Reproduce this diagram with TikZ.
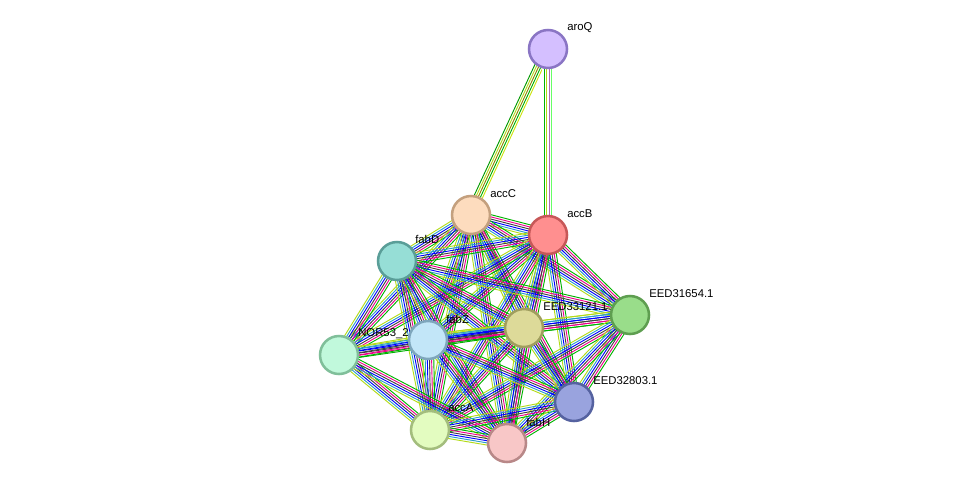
\documentclass[tikz,border=0pt]{standalone}
\usepackage{fontspec}
\setmainfont{Liberation Sans}
\usetikzlibrary{calc}
\begin{document}
\begin{tikzpicture}[x=0.75pt,y=-0.75pt,
  prot/.style={circle,minimum size=36\pgflinewidth,inner sep=0pt,line width=1.9pt,minimum size=28.5pt},
  lab/.style={anchor=west,inner sep=0pt,font=\fontsize{8.5}{10}\selectfont}]
\useasboundingbox (0,0) rectangle (975,489);
\coordinate (aroQ) at (548,49);
\coordinate (accC) at (471,215);
\coordinate (accB) at (548,235);
\coordinate (fabD) at (397,261);
\coordinate (E316) at (630,315);
\coordinate (E331) at (524,328);
\coordinate (fabZ) at (428,340);
\coordinate (NOR) at (339,355);
\coordinate (E328) at (574,402);
\coordinate (accA) at (430,430);
\coordinate (fabH) at (507,443);
\newcommand\bund[3]{%
  \foreach \c [count=\i] in {#3}{%
    \pgfmathsetmacro\o{(\i-3.5)*1.6}
    \draw[color=\c,line width=0.7pt] ($(#1)!\o pt!90:(#2)$) -- ($(#2)!\o pt!-90:(#1)$);}}
\bund{aroQ}{accC}{green!60!black,yellow!70!green,olive,green!70!black,yellow!80!green,white}
\bund{aroQ}{accB}{white,green!70!black,yellow!70!green,violet!60,green!60,white}
\foreach \a/\b in {accC/accB,accC/fabD,accC/E316,accC/E331,accC/fabZ,accC/NOR,accC/E328,accC/accA,accC/fabH,
  accB/fabD,accB/E316,accB/E331,accB/fabZ,accB/NOR,accB/E328,accB/accA,accB/fabH,
  fabD/E316,fabD/E331,fabD/fabZ,fabD/NOR,fabD/E328,fabD/accA,fabD/fabH,
  E316/E331,E316/fabZ,E316/E328,E316/accA,E316/fabH,
  E331/fabZ,E331/NOR,E331/E328,E331/accA,E331/fabH,
  fabZ/NOR,fabZ/E328,fabZ/accA,fabZ/fabH,
  NOR/accA,NOR/fabH,E328/accA,E328/fabH,accA/fabH}
  {\bund{\a}{\b}{yellow!70!green,cyan!80!black,blue,black!75,magenta,green!70!black}}
\node[lab] at ($(aroQ)+(19,-21)$) {aroQ};
\node[lab] at ($(accC)+(19,-21)$) {accC};
\node[lab] at ($(accB)+(19,-21)$) {accB};
\node[lab] at ($(fabD)+(18,-22)$) {fabD};
\node[lab] at ($(E316)+(19,-21)$) {EED31654.1};
\node[lab] at ($(E331)+(19,-21)$) {EED33121.1};
\node[lab] at ($(fabZ)+(18,-21)$) {fabZ};
\node[lab] at ($(NOR)+(19,-21)$) {NOR53\_2};
\node[lab] at ($(E328)+(19,-21)$) {EED32803.1};
\node[lab] at ($(accA)+(18,-22)$) {accA};
\node[lab] at ($(fabH)+(19,-21)$) {fabH};
\node[prot,fill={rgb,255:red,212;green,191;blue,255},draw={rgb,255:red,138;green,117;blue,196}] (n1) at (aroQ) {};
\node[prot,fill={rgb,255:red,253;green,220;blue,190},draw={rgb,255:red,196;green,160;blue,126}] (n2) at (accC) {};
\node[prot,fill={rgb,255:red,255;green,143;blue,143},draw={rgb,255:red,199;green,88;blue,88}] (n3) at (accB) {};
\node[prot,fill={rgb,255:red,150;green,222;blue,214},draw={rgb,255:red,90;green,158;blue,152}] (n4) at (fabD) {};
\node[prot,fill={rgb,255:red,153;green,221;blue,138},draw={rgb,255:red,94;green,158;blue,80}] (n5) at (E316) {};
\node[prot,fill={rgb,255:red,221;green,218;blue,153},draw={rgb,255:red,160;green,158;blue,94}] (n6) at (E331) {};
\node[prot,fill={rgb,255:red,194;green,230;blue,248},draw={rgb,255:red,126;green,166;blue,188}] (n7) at (fabZ) {};
\node[prot,fill={rgb,255:red,193;green,249;blue,220},draw={rgb,255:red,128;green,191;blue,154}] (n8) at (NOR) {};
\node[prot,fill={rgb,255:red,153;green,163;blue,222},draw={rgb,255:red,85;green,98;blue,160}] (n9) at (E328) {};
\node[prot,fill={rgb,255:red,227;green,252;blue,192},draw={rgb,255:red,163;green,189;blue,125}] (n10) at (accA) {};
\node[prot,fill={rgb,255:red,248;green,199;blue,199},draw={rgb,255:red,184;green,136;blue,136}] (n11) at (fabH) {};
\end{tikzpicture}
\end{document}
